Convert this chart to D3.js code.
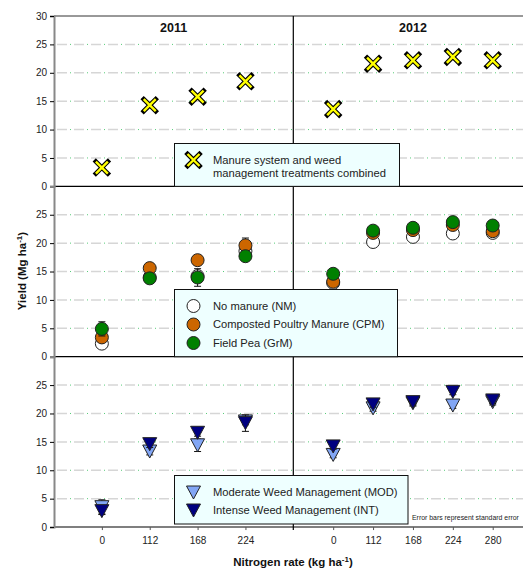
<!DOCTYPE html>
<html>
<head>
<meta charset="utf-8">
<script src="https://cdn.jsdelivr.net/npm/d3@7"></script>
<style>
  html, body { margin: 0; padding: 0; background: #fff; }
  svg { display: block; font-family: "Liberation Sans", Arial, sans-serif; }
</style>
</head>
<body>
<svg id="chart" width="523" height="570"></svg>
<script>
// ---- data ----
const years = ["2011", "2012"];
const nRates = { "2011": ["0", "112", "168", "224"], "2012": ["0", "112", "168", "224", "280"] };

// Panel 1: manure system and weed management combined
const combined2011 = [3.3, 14.3, 15.8, 18.5];
const combined2012 = [13.6, 21.6, 22.2, 22.8, 22.2];

// Panel 2: manure systems
const nm2011 = [2.3, 14.0, 14.2, 18.6];
const nm2012 = [13.0, 20.2, 21.1, 21.7, 21.8];
const cpm2011 = [3.4, 15.6, 17.0, 19.6];
const cpm2012 = [13.2, 21.8, 22.3, 23.2, 22.1];
const grm2011 = [4.9, 13.8, 13.95, 17.7];
const grm2012 = [14.6, 22.2, 22.7, 23.7, 23.1];
const nmSE2011 = [0.5, 0.6, 0.6, 0.6];
const nmSE2012 = [0.5, 0.6, 0.5, 0.5, 0.5];
const cpmSE2011 = [0.6, 0.6, 0.7, 1.3];
const cpmSE2012 = [0.6, 0.5, 0.5, 0.5, 0.5];
const grmSE2011 = [1.25, 0.6, 1.55, 0.6];
const grmSE2012 = [0.6, 0.5, 0.5, 0.5, 0.5];

// Panel 3: weed management
const mod2011 = [3.5, 13.3, 14.4, 18.6];
const mod2012 = [12.7, 20.9, 21.8, 21.4, 22.0];
const int2011 = [2.8, 14.6, 16.6, 18.3];
const int2012 = [14.2, 21.6, 22.0, 23.8, 22.3];
const modSE2011 = [1.3, 0.6, 1.1, 0.6];
const modSE2012 = [0.5, 0.5, 0.5, 0.5, 0.5];
const intSE2011 = [0.5, 0.6, 0.6, 1.45];
const intSE2012 = [0.5, 0.5, 0.5, 0.5, 0.5];

const yTicksTop = [0, 5, 10, 15, 20, 25, 30];
const yTicks = [0, 5, 10, 15, 20, 25];
const gridValues = [5, 10, 15, 20, 25];

// ---- layout ----
const svg = d3.select("#chart");
const plotLeft = 54, plotTop = 16, panelH = 170.35, yearW = 239.3;
const panelTops = [0, 1, 2].map(i => plotTop + i * panelH);
const plotBottom = plotTop + 3 * panelH;

const xYear = d3.scaleBand().domain(years).range([plotLeft, plotLeft + 2 * yearW]).padding(0);
const xIn = {};
years.forEach(y => {
  xIn[y] = d3.scalePoint().domain(nRates[y]).range([xYear(y), xYear(y) + yearW]).padding(1);
});
const yScales = panelTops.map(t => d3.scaleLinear().domain([0, 30]).range([t + panelH, t]));

const colors = {
  x: "#ffff00", nm: "#ffffff", cpm: "#cc6600", grm: "#008000",
  mod: "#82a6f5", int: "#000080", legendFill: "#eeffff"
};

// ---- gridlines (grey dashes with small green dots in the gaps) ----
const grid = svg.append("g");
yScales.forEach(ys => {
  gridValues.forEach(v => {
    grid.append("line")
      .attr("x1", plotLeft + 3).attr("x2", 523)
      .attr("y1", ys(v)).attr("y2", ys(v))
      .attr("stroke", "#d6d6d6").attr("stroke-width", 1.5)
      .attr("stroke-dasharray", "10,7");
    grid.append("line")
      .attr("x1", plotLeft + 3).attr("x2", 523)
      .attr("y1", ys(v)).attr("y2", ys(v))
      .attr("stroke", "#55cc77").attr("stroke-width", 1)
      .attr("stroke-dasharray", "1,16").attr("stroke-dashoffset", -13);
  });
});

// ---- frame ----
const frame = svg.append("g");
frame.append("line").attr("x1", plotLeft).attr("x2", 523).attr("y1", plotTop).attr("y2", plotTop)
  .attr("stroke", "#333").attr("stroke-width", 1);
[1, 2].forEach(i => {
  frame.append("line").attr("x1", plotLeft).attr("x2", 523)
    .attr("y1", panelTops[i]).attr("y2", panelTops[i])
    .attr("stroke", "#000").attr("stroke-width", 1.2);
});
frame.append("line").attr("x1", plotLeft).attr("x2", 523).attr("y1", plotBottom).attr("y2", plotBottom)
  .attr("stroke", "#555").attr("stroke-width", 1.5);
frame.append("line").attr("x1", xYear("2012")).attr("x2", xYear("2012"))
  .attr("y1", plotTop).attr("y2", plotBottom + 3)
  .attr("stroke", "#000").attr("stroke-width", 1.2);

// ---- y axes ----
yScales.forEach((ys, i) => {
  const ticks = i === 0 ? yTicksTop : yTicks;
  const ax = d3.axisLeft(ys).tickValues(ticks).tickSize(4).tickPadding(3);
  const g = svg.append("g").attr("transform", `translate(${plotLeft},0)`).call(ax);
  g.select(".domain").attr("stroke", "#888").attr("stroke-width", 2);
  g.selectAll(".tick line").attr("stroke", "#000");
  g.selectAll(".tick text").attr("font-size", 10).attr("fill", "#222")
    .attr("font-family", "Liberation Sans, Arial, sans-serif");
});

// ---- x axis ----
years.forEach(y => {
  const ax = d3.axisBottom(xIn[y]).tickSize(3).tickPadding(7);
  const g = svg.append("g").attr("transform", `translate(0,${plotBottom})`).call(ax);
  g.select(".domain").remove();
  g.selectAll(".tick line").attr("stroke", "#555");
  g.selectAll(".tick text").attr("font-size", 10).attr("fill", "#222")
    .attr("font-family", "Liberation Sans, Arial, sans-serif");
});

// ---- titles ----
years.forEach(y => {
  svg.append("text").attr("x", xYear(y) + yearW / 2).attr("y", 32)
    .attr("text-anchor", "middle").attr("font-size", 12.5).attr("font-weight", "bold")
    .attr("fill", "#111").text(y);
});
const xt = svg.append("text").attr("x", 293).attr("y", 566)
  .attr("text-anchor", "middle").attr("font-size", 11.5).attr("font-weight", "bold").attr("fill", "#111");
xt.append("tspan").text("Nitrogen rate (kg ha");
xt.append("tspan").attr("dy", -4).attr("font-size", 8).text("-1");
xt.append("tspan").attr("dy", 4).text(")");

const yt = svg.append("text").attr("transform", "translate(26,271) rotate(-90)")
  .attr("text-anchor", "middle").attr("font-size", 11.5).attr("font-weight", "bold").attr("fill", "#111");
yt.append("tspan").text("Yield (Mg ha");
yt.append("tspan").attr("dy", -4).attr("font-size", 8).text("-1");
yt.append("tspan").attr("dy", 4).text(")");

// ---- marker helpers ----
const triPath = "M-7,-6.5L7,-6.5L0,6.5Z";
function drawX(g, cx, cy) {
  const s = 6;
  [[4.6, "#000"], [2.4, colors.x]].forEach(([w, c]) => {
    g.append("path").attr("d", `M${cx - s},${cy - s}L${cx + s},${cy + s}M${cx - s},${cy + s}L${cx + s},${cy - s}`)
      .attr("stroke", c).attr("stroke-width", w).attr("stroke-linecap", w > 3 ? "square" : "butt").attr("fill", "none");
  });
}
function drawCircle(g, cx, cy, fill) {
  g.append("circle").attr("cx", cx).attr("cy", cy).attr("r", 6.5)
    .attr("fill", fill).attr("stroke", "#222").attr("stroke-width", 1);
}
function drawTri(g, cx, cy, fill) {
  g.append("path").attr("d", triPath).attr("transform", `translate(${cx},${cy})`)
    .attr("fill", fill).attr("stroke", "#222").attr("stroke-width", 1);
}
function drawErr(g, cx, ys, v, se) {
  if (!se) return;
  const y1 = ys(v - se), y2 = ys(v + se);
  g.append("line").attr("x1", cx).attr("x2", cx).attr("y1", y1).attr("y2", y2)
    .attr("stroke", "#111").attr("stroke-width", 1);
  [y1, y2].forEach(yy => g.append("line").attr("x1", cx - 3.5).attr("x2", cx + 3.5)
    .attr("y1", yy).attr("y2", yy).attr("stroke", "#111").attr("stroke-width", 1));
}

const marks = svg.append("g");

// Panel 1
[["2011", combined2011], ["2012", combined2012]].forEach(([yr, vals]) => {
  vals.forEach((v, i) => drawX(marks, xIn[yr](nRates[yr][i]), yScales[0](v)));
});

// Panel 2
const manureSeries = [
  { fill: colors.nm, data: { "2011": [nm2011, nmSE2011], "2012": [nm2012, nmSE2012] } },
  { fill: colors.cpm, data: { "2011": [cpm2011, cpmSE2011], "2012": [cpm2012, cpmSE2012] } },
  { fill: colors.grm, data: { "2011": [grm2011, grmSE2011], "2012": [grm2012, grmSE2012] } }
];
manureSeries.forEach(s => {
  years.forEach(yr => {
    const [vals, ses] = s.data[yr];
    vals.forEach((v, i) => {
      const cx = xIn[yr](nRates[yr][i]);
      drawErr(marks, cx, yScales[1], v, ses[i]);
      drawCircle(marks, cx, yScales[1](v), s.fill);
    });
  });
});

// Panel 3
const weedSeries = [
  { fill: colors.mod, data: { "2011": [mod2011, modSE2011], "2012": [mod2012, modSE2012] } },
  { fill: colors.int, data: { "2011": [int2011, intSE2011], "2012": [int2012, intSE2012] } }
];
weedSeries.forEach(s => {
  years.forEach(yr => {
    const [vals, ses] = s.data[yr];
    vals.forEach((v, i) => {
      const cx = xIn[yr](nRates[yr][i]);
      drawErr(marks, cx, yScales[2], v, ses[i]);
      drawTri(marks, cx, yScales[2](v), s.fill);
    });
  });
});

// ---- legends ----
function legendBox(x, y, w, h) {
  const g = svg.append("g");
  g.append("rect").attr("x", x).attr("y", y).attr("width", w).attr("height", h)
    .attr("fill", colors.legendFill).attr("stroke", "#111").attr("stroke-width", 1);
  return g;
}
function legendText(g, x, y, t) {
  g.append("text").attr("x", x).attr("y", y).attr("dy", "0.35em")
    .attr("font-size", 11.2).attr("fill", "#222").text(t);
}

const lg1 = legendBox(174.5, 143.5, 225, panelTops[1] - 143.5);
drawX(lg1, 193.5, 160);
legendText(lg1, 213, 160, "Manure system and weed");
legendText(lg1, 213, 173.5, "management treatments combined");

const lg2 = legendBox(174.5, 289.5, 223, panelTops[2] - 289.5);
const manureLabels = ["No manure (NM)", "Composted Poultry Manure (CPM)", "Field Pea (GrM)"];
[306, 324.5, 343].forEach((yy, i) => {
  drawCircle(lg2, 193.5, yy, manureSeries[i].fill);
  legendText(lg2, 213, yy, manureLabels[i]);
});

const lg3 = legendBox(174.5, 475.5, 233.5, 48.5);
const weedLabels = ["Moderate Weed Management (MOD)", "Intense Weed Management (INT)"];
[492.5, 510.5].forEach((yy, i) => {
  drawTri(lg3, 193.5, yy, weedSeries[i].fill);
  legendText(lg3, 213, yy, weedLabels[i]);
});

svg.append("text").attr("x", 412).attr("y", 519.5)
  .attr("font-size", 6.9).attr("fill", "#222").text("Error bars represent standard error");
</script>
</body>
</html>
